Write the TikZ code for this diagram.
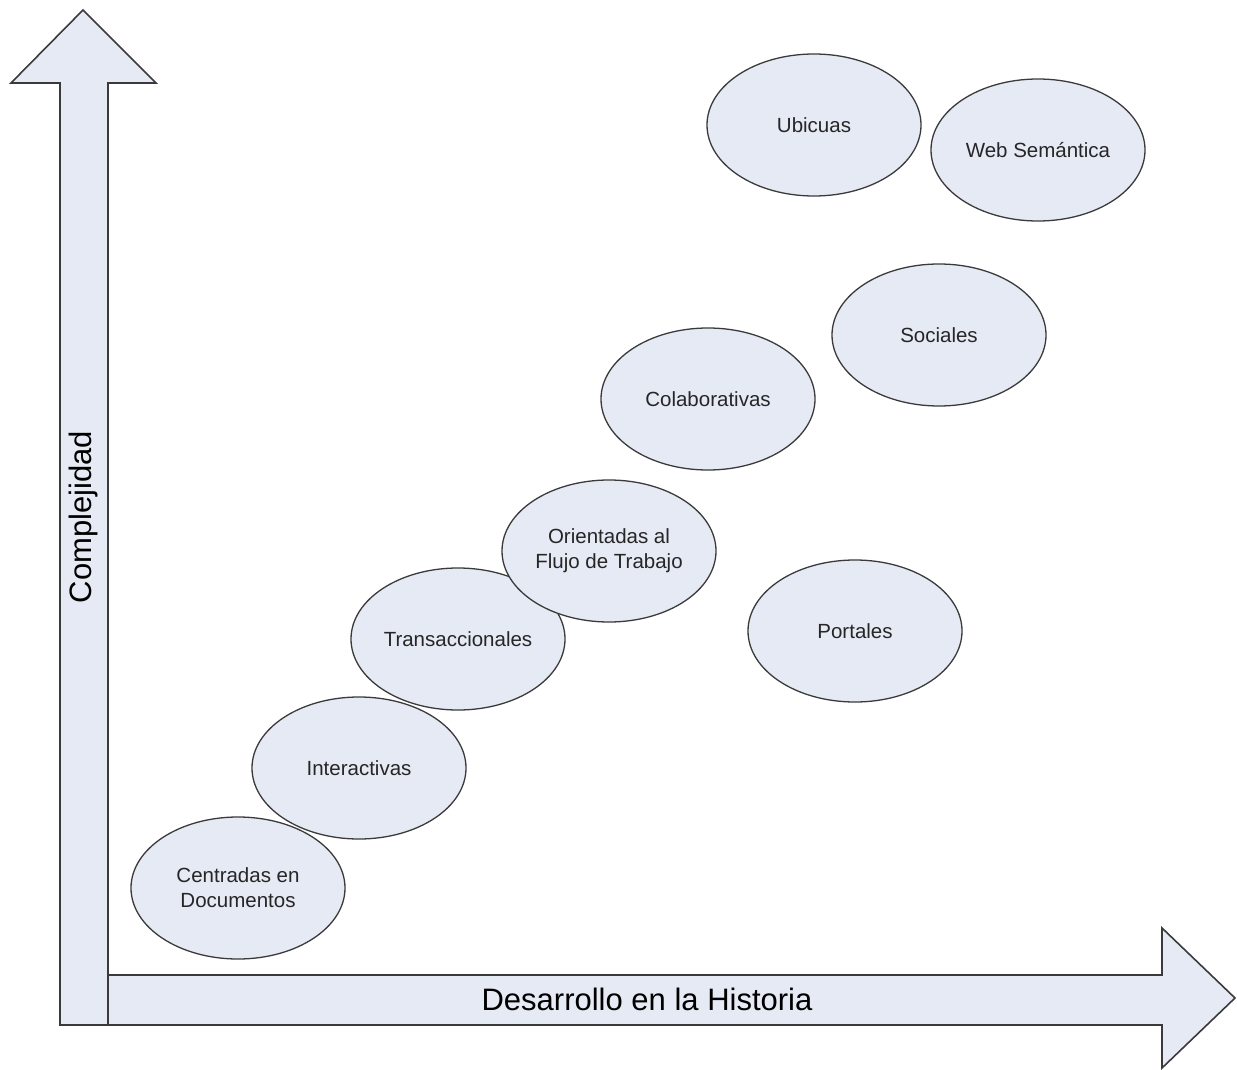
\documentclass[tikz,border=0pt]{standalone}
\usepackage{fontspec}
\setmainfont{Liberation Sans}
\usetikzlibrary{shapes.geometric}
\definecolor{fillc}{HTML}{E6EAF5}
\definecolor{linec}{HTML}{3A3A3A}
\begin{document}
\begin{tikzpicture}[x=1pt,y=-1pt,
  axis/.style={fill=fillc,draw=linec,line width=1.6pt,line join=miter},
  bubble/.style={ellipse,fill=fillc,draw=linec,line width=1.3pt,minimum width=214pt,minimum height=142pt,inner sep=0pt,align=center,font=\fontsize{20.5}{25}\selectfont,text=black!85}]
\useasboundingbox (0,0) rectangle (1237,1070);
% horizontal arrow
\draw[axis] (60,975) -- (1162,975) -- (1162,928) -- (1235,998) -- (1162,1068) -- (1162,1025) -- (60,1025) -- cycle;
% vertical arrow
\draw[axis] (60,1025) -- (60,83) -- (11,83) -- (83,10) -- (156,83) -- (108,83) -- (108,1025) -- cycle;
\node[font=\fontsize{31}{36}\selectfont] (xlab) at (647,999) {Desarrollo en la Historia};
\node[font=\fontsize{31}{36}\selectfont,rotate=90] (ylab) at (83,517) {Complejidad};
% bubbles
\node[bubble] (cen) at (238,888) {Centradas en\\Documentos};
\node[bubble] (int) at (359,768) {Interactivas};
\node[bubble] (tra) at (458,639) {Transaccionales};
\node[bubble] (ori) at (609,551) {Orientadas al\\Flujo de Trabajo};
\node[bubble] (col) at (708,399) {Colaborativas};
\node[bubble] (por) at (855,631) {Portales};
\node[bubble] (soc) at (939,335) {Sociales};
\node[bubble] (ubi) at (814,125) {Ubicuas};
\node[bubble] (web) at (1038,150) {Web Semántica};
\end{tikzpicture}
\end{document}
